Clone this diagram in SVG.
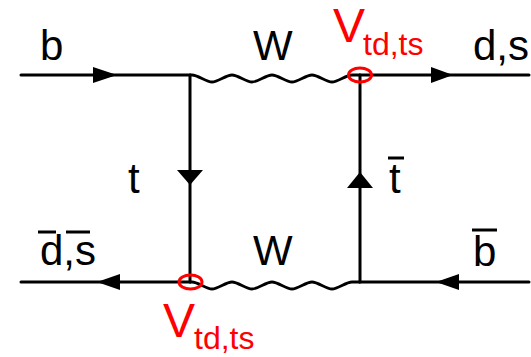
<svg xmlns="http://www.w3.org/2000/svg" width="531" height="357" viewBox="0 0 531 357">
<style>
.ln{stroke:#000;stroke-width:3;fill:none;stroke-linecap:round}
.wv{stroke:#000;stroke-width:2.8;fill:none}
.ah{fill:#000;stroke:none}
.lb{font-family:"Liberation Sans",Arial,sans-serif;font-size:42px;fill:#000}
.ol{stroke:#000;stroke-width:3}
.rd{font-family:"Liberation Sans",Arial,sans-serif;fill:#ff0000}
.vx{fill:none;stroke:#ff0000;stroke-width:3}
</style>
<rect width="531" height="357" fill="#fff"/>
<g id="connectors">
  <line class="ln" x1="21" y1="75" x2="190" y2="75"/>
  <line class="ln" x1="360" y1="75" x2="529" y2="75"/>
  <line class="ln" x1="21" y1="282" x2="190" y2="282"/>
  <line class="ln" x1="360" y1="282" x2="529" y2="282"/>
  <line class="ln" x1="190" y1="75" x2="190" y2="282"/>
  <line class="ln" x1="360" y1="75" x2="360" y2="282"/>
  <path class="wv" d="M190,75 L192,75 c6,0 14,7 20,7 c6,0 14,-7 20,-7 c6,0 14,7 20,7 c6,0 14,-7 20,-7 c6,0 14,7 20,7 c6,0 14,-7 20,-7 c6,0 14,7 20,7 c6,0 14,-7 20,-7 L360,75"/>
  <path class="wv" d="M190,282 L192,282 c6,0 14,7 20,7 c6,0 14,-7 20,-7 c6,0 14,7 20,7 c6,0 14,-7 20,-7 c6,0 14,7 20,7 c6,0 14,-7 20,-7 c6,0 14,7 20,7 c6,0 14,-7 20,-7 L360,282"/>
  <polygon class="ah" points="117,75 93,67 93,83"/>
  <polygon class="ah" points="453,75 431,67 431,83"/>
  <polygon class="ah" points="190,185 177,170 203,170"/>
  <polygon class="ah" points="360,172 347,188 373,188"/>
  <polygon class="ah" points="97,282 120,274 120,290"/>
  <polygon class="ah" points="436,282 459,274 459,290"/>
</g>
<g id="vertex-top-right">
  <ellipse class="vx" cx="360" cy="75" rx="11.5" ry="7"/>
  <text class="rd" x="333" y="42" font-size="48">V<tspan font-size="32" x="363" y="55">td,ts</tspan></text>
</g>
<g id="vertex-bottom-left">
  <ellipse class="vx" cx="190.5" cy="282" rx="11.5" ry="7"/>
  <text class="rd" x="163" y="337" font-size="48">V<tspan font-size="32" x="194" y="349">td,ts</tspan></text>
</g>
<g id="label-b"><text class="lb" x="40" y="60">b</text></g>
<g id="label-W-top"><text class="lb" x="253" y="60">W</text></g>
<g id="label-ds"><text class="lb" x="473" y="60">d,s</text></g>
<g id="label-t"><text class="lb" x="128" y="193">t</text></g>
<g id="label-tbar"><text class="lb" x="389" y="193">t</text><line class="ol" x1="388" y1="158" x2="404" y2="158"/></g>
<g id="label-dsbar"><text class="lb" x="40" y="265">d,s</text><line class="ol" x1="38" y1="232" x2="56" y2="232"/><line class="ol" x1="66" y1="232" x2="90" y2="232"/></g>
<g id="label-W-bottom"><text class="lb" x="253" y="265">W</text></g>
<g id="label-bbar"><text class="lb" x="473" y="266">b</text><line class="ol" x1="472" y1="230" x2="497" y2="230"/></g>
</svg>
